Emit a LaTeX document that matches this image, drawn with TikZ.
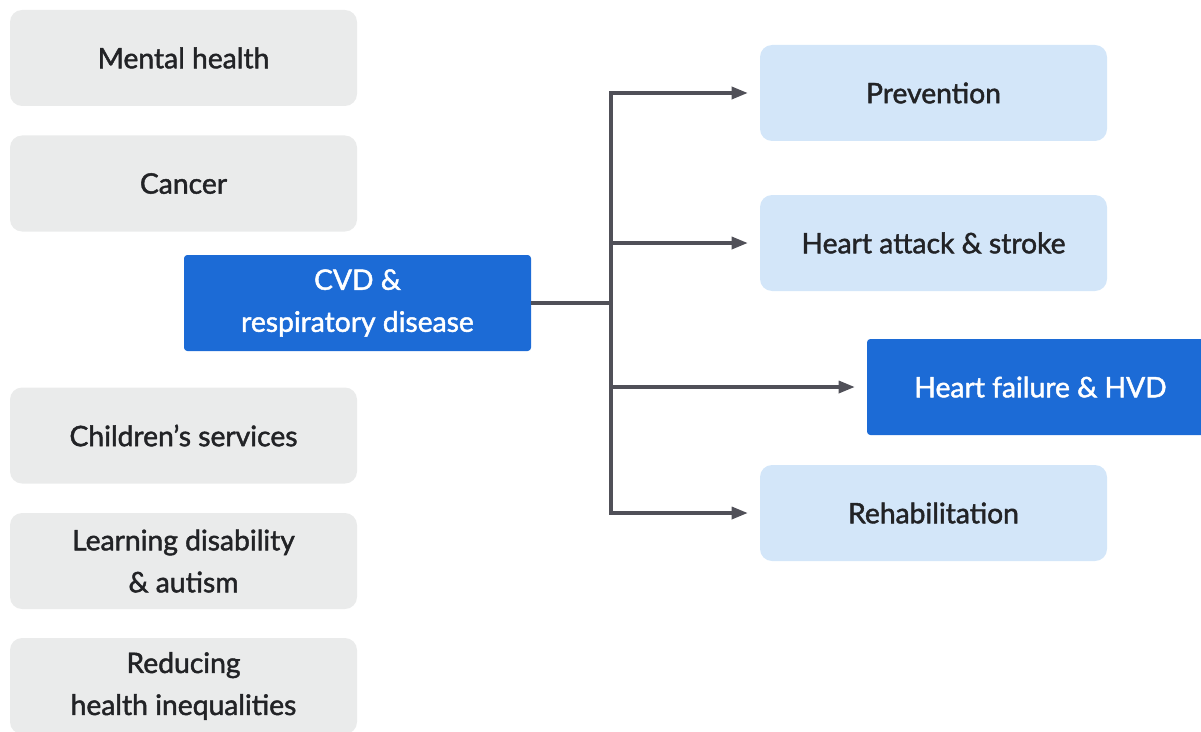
\documentclass[tikz,border=0pt]{standalone}
\usepackage{fontspec}
\setmainfont{Lato}[FakeBold=1.6]
\usetikzlibrary{arrows.meta}
\definecolor{gfill}{HTML}{EAEBEB}
\definecolor{lblue}{HTML}{D3E6F9}
\definecolor{dblue}{HTML}{1C6BD6}
\definecolor{tdark}{HTML}{222326}
\definecolor{lgray}{HTML}{505058}
\tikzset{
  box/.style={rectangle, minimum width=260.25pt, minimum height=72pt, inner sep=0pt,
    align=center, font=\fontsize{21.2}{31.5}\selectfont, text=tdark},
  gbox/.style={box, fill=gfill, rounded corners=9pt},
  lbox/.style={box, fill=lblue, rounded corners=9pt},
  dbox/.style={box, fill=dblue, rounded corners=2.5pt, text=white},
  conn/.style={draw=lgray, line width=2.4pt},
  arr/.style={conn, -{Triangle[length=12pt,width=9pt]}, shorten >=9pt}
}
\begin{document}
\begin{tikzpicture}[x=0.75pt,y=-0.75pt]
\useasboundingbox (0,0) rectangle (1201,731);
\begin{scope}
\clip (0,0) rectangle (1201,731);
\node[gbox] (mh) at (183.5,58) {Mental health};
\node[gbox] (ca) at (183.5,183.5) {Cancer};
\node[gbox] (ch) at (183.5,435.5) {Children’s services};
\node[gbox] (ld) at (183.5,561) {Learning disability\\\& autism};
\node[gbox] (rh) at (183.5,686) {Reducing\\health inequalities};
\node[dbox] (cvd) at (357.5,303) {CVD \&\\respiratory disease};
\node[lbox] (pr) at (933.5,93) {Prevention};
\node[lbox] (ha) at (933.5,243) {Heart attack \& stroke};
\node[dbox] (hf) at (1040.5,387) {Heart failure \& HVD};
\node[lbox] (re) at (933.5,513) {Rehabilitation};
\coordinate (j) at (611,303);
\draw[conn] (cvd.east) -- (j);
\draw[conn, line cap=rect] (j |- pr.west) -- (j |- re.west);
\draw[arr] (j |- pr.west) -- (pr.west);
\draw[arr] (j |- ha.west) -- (ha.west);
\draw[arr] (j |- hf.west) -- (hf.west);
\draw[arr] (j |- re.west) -- (re.west);
\end{scope}
\end{tikzpicture}
\end{document}
